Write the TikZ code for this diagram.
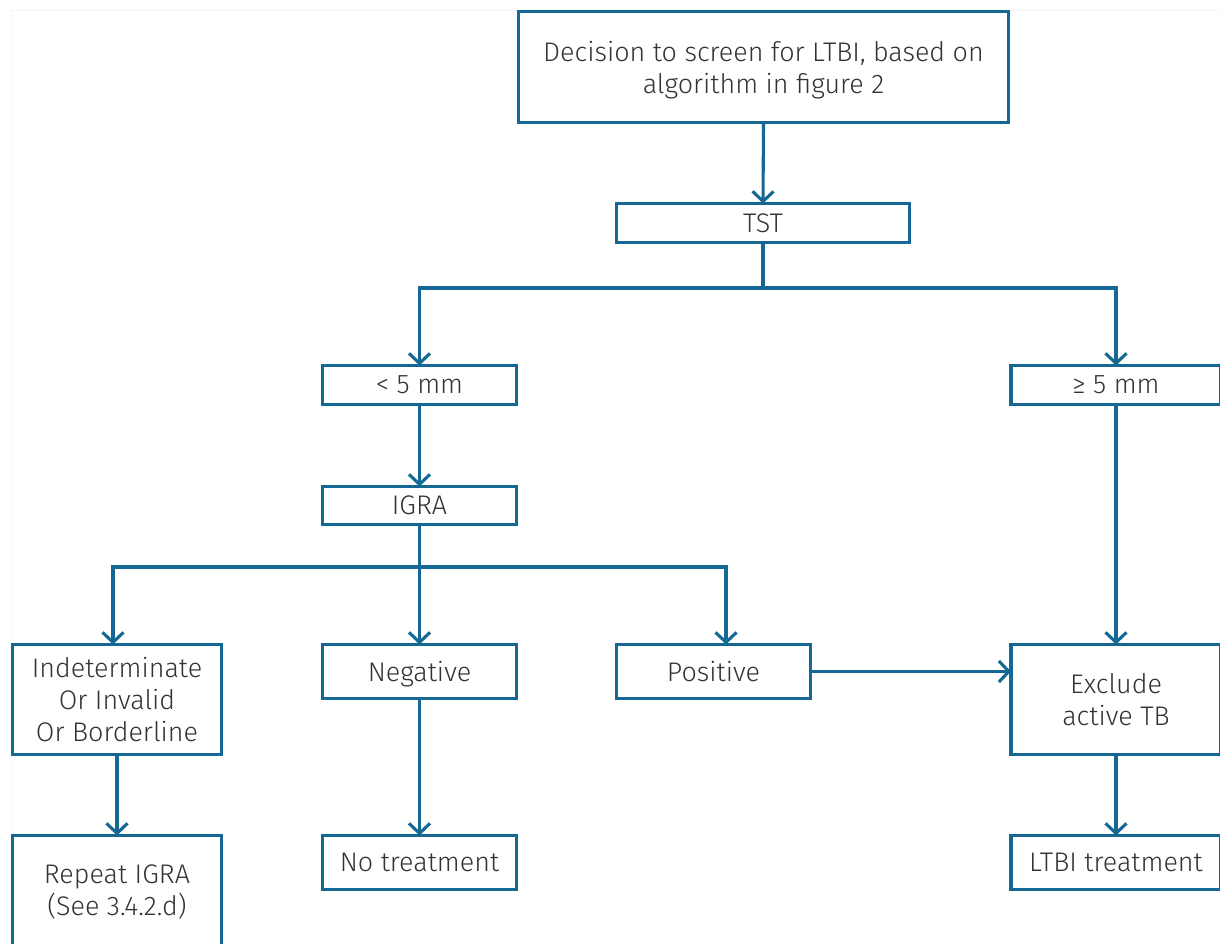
\documentclass[tikz,border=0pt]{standalone}
\usepackage{fontspec}
\setmainfont{Fira Sans Light}
\usetikzlibrary{arrows.meta}
\definecolor{fblue}{HTML}{156894}
\definecolor{ftext}{HTML}{333333}
\begin{document}
\begin{tikzpicture}[x=1bp,y=-1bp,
  box/.style={draw=fblue, line width=3.1bp, text=ftext, align=center,
    font=\fontsize{27}{32}\selectfont, inner sep=0pt, outer sep=0pt, fill=white, text depth=-3bp},
  conn/.style={draw=fblue, line width=3.1bp},
  arr/.style={conn, -{Straight Barb[length=10bp, width=21bp, line width=3.1bp]}}]
\useasboundingbox (0,0) rectangle (1220,944);
\clip (0,0) rectangle (1220,944);
\draw[black!4, line width=1bp] (11,10) -- (1220,10) (11,10) -- (11,944);
% nodes
\node[box, minimum width=490bp, minimum height=111bp] (top) at (763.5,67) {Decision to screen for LTBI, based on\\algorithm in figure 2};
\node[box, minimum width=293bp, minimum height=39bp] (tst) at (763,223) {TST};
\node[box, minimum width=194bp, minimum height=39bp] (lt) at (419.5,385) {< 5 mm};
\node[box, minimum width=210bp, minimum height=39bp] (ge) at (1116,385) {≥ 5 mm};
\node[box, minimum width=194bp, minimum height=38bp] (igra) at (419.5,505.5) {IGRA};
\node[box, minimum width=209bp, minimum height=110bp] (ind) at (117,699.5) {Indeterminate\\Or Invalid\\Or Borderline};
\node[box, minimum width=194bp, minimum height=54bp] (neg) at (419.5,671.5) {Negative};
\node[box, minimum width=194bp, minimum height=54bp] (pos) at (713.5,671.5) {Positive};
\node[box, minimum width=210bp, minimum height=110bp] (excl) at (1116,699.5) {Exclude\\active TB};
\node[box, minimum width=209bp, minimum height=110bp] (rep) at (117,890.5) {Repeat IGRA\\(See 3.4.2.d)};
\node[box, minimum width=194bp, minimum height=54bp] (notr) at (419.5,862.5) {No treatment};
\node[box, minimum width=210bp, minimum height=54bp] (ltbi) at (1116,862.5) {LTBI treatment};
% junctions
\coordinate (j1) at (763,288);
\coordinate (j2) at (419.5,567);
% connectors
\draw[arr] (top.south) -- (tst.north);
\draw[conn] (tst.south) -- (j1);
\draw[arr] (j1) -| (lt.north);
\draw[arr] (j1) -| (ge.north);
\draw[arr] (lt.south) -- (igra.north);
\draw[conn] (igra.south) -- (j2);
\draw[arr] (j2) -| ([xshift=-4bp]ind.north);
\draw[arr] (j2) -- (neg.north);
\draw[arr] (j2) -| ([xshift=12.5bp]pos.north);
\draw[arr] (ind.south) -- (rep.north);
\draw[arr] (neg.south) -- (notr.north);
\draw[arr] (pos.east) -- (pos.east -| excl.west);
\draw[arr] (ge.south) -- (excl.north);
\draw[arr] (excl.south) -- (ltbi.north);
\end{tikzpicture}
\end{document}
